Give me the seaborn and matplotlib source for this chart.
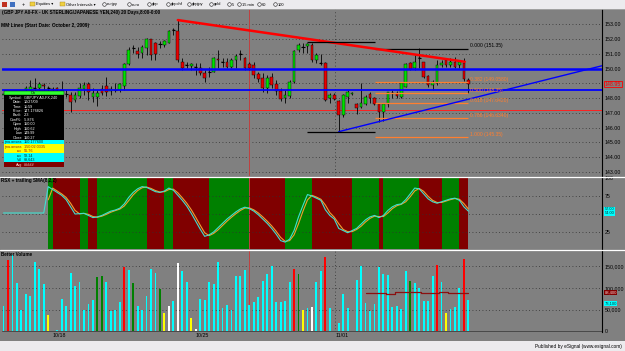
import numpy as np
import pandas as pd
import matplotlib
matplotlib.use('Agg')
import matplotlib.pyplot as plt
import seaborn as sns
from matplotlib.patches import Rectangle

#-----------------------------------------------------------------------------------------------------------------------
"""Data read off the chart (240 min bars, GBP/JPY)"""
opens = [148.20, 148.30, 148.05, 148.25, 148.35, 148.55, 148.55, 148.70, 148.66, 148.86,
         148.70, 148.61, 148.66, 148.55, 148.25, 148.21, 147.87, 148.16, 148.61, 148.93,
         148.09, 148.05, 148.61, 148.82, 148.48, 148.55, 148.55, 148.84, 150.28, 151.37,
         151.18, 151.03, 151.37, 151.97, 151.75, 151.64, 151.59, 151.70, 152.61, 152.54,
         150.46, 150.24, 150.19, 150.12, 150.06, 149.67, 149.79, 149.79, 150.64, 150.46,
         150.46, 150.12, 150.58, 151.00, 150.69, 150.28, 150.24, 149.61, 149.34, 148.66,
         149.45, 148.93, 148.48, 147.98, 148.16, 149.11, 151.25, 151.48, 151.55, 151.59,
         150.58, 150.35, 150.39, 147.98, 148.21, 147.80, 146.86, 148.09, 148.27, 147.58,
         147.42, 147.58, 148.25, 147.98, 147.58, 147.03, 147.58, 148.32, 148.32, 148.09,
         148.77, 150.35, 150.01, 150.69, 150.42, 149.52, 148.88, 148.99, 150.24, 150.58,
         150.24, 150.46, 150.24, 150.39, 149.22]
highs = [148.40, 148.40, 148.35, 148.45, 148.45, 148.84, 149.22, 149.34, 149.11, 148.99,
         148.84, 148.77, 148.77, 149.15, 148.55, 148.43, 148.39, 149.00, 149.11, 149.11,
         148.66, 148.55, 148.88, 149.45, 148.84, 149.00, 149.00, 150.35, 151.48, 151.59,
         151.48, 151.59, 152.04, 152.00, 151.82, 151.86, 151.93, 152.61, 152.76, 153.28,
         150.69, 150.46, 150.35, 150.35, 150.35, 149.90, 150.12, 150.76, 151.25, 150.69,
         150.69, 150.73, 150.96, 151.25, 150.80, 150.46, 150.46, 149.79, 149.67, 149.56,
         149.67, 149.22, 148.66, 148.55, 149.22, 151.25, 151.70, 151.70, 151.70, 151.70,
         151.03, 150.96, 150.46, 148.32, 148.32, 147.87, 148.25, 148.55, 148.39, 147.64,
         149.00, 148.21, 148.43, 148.09, 147.64, 147.64, 148.43, 148.55, 148.48, 149.11,
         150.35, 150.46, 150.91, 151.37, 150.46, 149.56, 149.22, 150.58, 150.58, 150.69,
         150.69, 150.80, 150.58, 150.69, 149.34]
lows = [147.90, 147.95, 147.80, 148.00, 148.10, 148.39, 148.39, 148.39, 148.52, 148.55,
        148.48, 148.43, 148.39, 148.25, 148.09, 147.03, 147.71, 147.98, 148.21, 147.87,
        147.71, 147.49, 148.21, 148.16, 148.21, 148.43, 148.43, 148.55, 150.24, 151.03,
        150.69, 150.69, 150.91, 150.58, 150.58, 151.37, 151.48, 151.70, 152.27, 150.46,
        149.90, 150.01, 149.90, 149.56, 149.56, 149.11, 149.45, 149.74, 150.01, 150.12,
        150.01, 150.06, 150.01, 150.58, 149.90, 149.90, 149.34, 149.11, 148.43, 148.32,
        148.66, 148.21, 147.80, 147.64, 147.98, 149.00, 151.14, 151.03, 151.03, 150.46,
        150.35, 150.24, 147.80, 147.64, 147.87, 145.73, 146.74, 147.64, 148.21, 146.90,
        147.31, 147.53, 147.64, 147.53, 146.40, 146.45, 147.42, 147.98, 147.98, 147.98,
        148.77, 149.90, 149.90, 150.01, 149.34, 148.77, 148.55, 148.88, 150.12, 150.12,
        150.12, 150.06, 150.01, 149.15, 148.32]
closes = [148.30, 148.05, 148.25, 148.35, 148.30, 148.70, 148.77, 148.70, 148.93, 148.80,
          148.70, 148.61, 148.55, 148.55, 148.25, 147.76, 148.21, 148.66, 148.88, 148.43,
          148.32, 148.32, 148.32, 148.43, 148.61, 148.55, 148.93, 150.28, 151.25, 151.37,
          150.96, 151.43, 151.97, 150.91, 150.96, 151.64, 151.86, 152.56, 152.61, 150.58,
          150.06, 150.24, 150.28, 150.12, 149.67, 149.34, 149.79, 150.69, 150.58, 150.46,
          150.12, 150.58, 150.82, 151.00, 150.01, 150.01, 149.56, 149.29, 148.66, 149.34,
          148.88, 148.48, 147.94, 148.21, 149.11, 151.18, 151.59, 151.48, 151.64, 150.58,
          150.91, 150.35, 147.87, 148.21, 147.94, 146.86, 148.21, 148.39, 148.32, 147.31,
          147.64, 148.09, 147.98, 147.58, 147.03, 147.58, 148.39, 148.32, 148.16, 149.00,
          150.28, 149.97, 150.46, 150.69, 149.45, 148.88, 149.11, 150.24, 150.35, 150.24,
          150.46, 150.12, 150.46, 149.27, 148.95]

volumes = [57700, 163800, 175400, 110000, 48500, 85400, 80800, 160000, 143000, 108500,
           36900, 1500, 2300, 75400, 57700, 133100, 103800, 113800, 48500, 62300,
           71500, 125300, 126900, 112300, 46900, 48500, 67700, 146900, 140800, 111500,
           57700, 50000, 80800, 143000, 133100, 96200, 42300, 57700, 70000, 156200,
           139200, 113100, 31500, 5400, 75400, 73100, 113100, 108500, 158500, 53800,
           60000, 50000, 126900, 126900, 140800, 60000, 67700, 79200, 116200, 131500,
           150800, 67700, 67700, 69200, 113800, 143000, 131500, 50000, 53800, 56200,
           113100, 139200, 170000, 54600, 1500, 19200, 86900, 54600, 1500, 117700,
           150800, 65400, 46900, 62300, 146900, 131500, 129200, 56200, 57700, 52300,
           138500, 115400, 110000, 98500, 69200, 69200, 126900, 152300, 113100, 42300,
           50800, 56200, 100000, 166150, 73100]
# c=cyan, r=red, g=green, y=yellow, w=white (Better Volume colouring)
vol_kind = ("crcccccccc" "ywcccccccc" "cggccccrcg" "cccccgywcw" "ccywcccccc"
            "cccccccccc" "cccccrgycw" "ccrcwccccc" "cccccccccc" "cgcccccrcy" "cccrc")
avg_start = 81
avg_vol = [89200, 89200, 89200, 89200, 89200, 86900, 86900, 90000, 90000, 90000, 90000, 91500,
           91500, 89200, 89200, 89200, 89200, 91500, 91500, 88400, 88400, 88400, 88400, 88400]

rsx = [51.4, 51.4, 51.4, 51.4, 51.4, 51.4, 51.4, 51.4, 51.4, 51.4,
       88, 84, 80, 76, 70, 60, 50, 50.5, 51, 48,
       45, 46, 48, 51, 54, 55.5, 58, 64, 73, 80,
       85, 88, 87, 84, 81, 80, 82, 86, 83, 76,
       69, 61, 51, 40, 29, 19, 21, 25, 31, 37,
       43, 48, 53, 57, 59.5, 57.5, 54, 49, 43, 37,
       30, 22, 13, 11, 15, 27, 46, 62, 77, 75,
       72, 69, 56, 48, 43, 30, 27, 24, 27, 30,
       36, 42, 46, 48, 45, 48, 55, 60, 63, 64,
       70, 78, 86, 85, 78, 71, 67, 65, 67, 69,
       71, 72, 69, 60, 54]
# background colour of the RSX pane per bar: G rising, R falling, . none
rsx_bands = (".........." "G" "RRRRRR" "GG" "RR" "GGGGGGGGGGG" "RRRR" "GG" "RRRRRRRR"
             "GGGGGGGGG" "RRRRRRRR" "GGGGGG" "RRRRRRRRR" "GGGGGG" "R" "GGGGGGGG" "RRRRR"
             "GGGG" "RR" ".")

date_ticks = [11, 43, 74.2]
date_labels = ['10/18', '10/25', '11/01']

# drawn objects
mm_blue = [150.00, 148.52]
mm_red = 147.17
down_x, down_y = [39, 103.2], [153.28, 150.46]
up_x, up_y = [75, 133.9], [145.73, 150.19]
box_x = [67.9, 83.1]
box_levels = [151.82, 145.68]
fib_x = [83.1, 104]
fib_levels = [151.35, 149.058, 148.35, 147.642, 146.634, 145.35]
fib_labels = ['0.000 (151.35)', '0.382 (149.0580)', '0.500 (148.35)', '0.618 (147.6420)',
              '0.786 (146.6340)', '1.000 (145.35)']
cursor_bar = 55

#-----------------------------------------------------------------------------------------------------------------------
"""Figure"""
sns.set_theme(style='white')
plt.rcParams['font.family'] = ['Liberation Sans', 'DejaVu Sans']

W, H = 625, 351
BG = '#808080'
fig = plt.figure(figsize=(6.25, 3.51), dpi=100)
fig.patch.set_facecolor(BG)


def px_box(l, t, r, b):
    return [l / W, 1 - b / H, (r - l) / W, (b - t) / H]


ax1 = fig.add_axes(px_box(2, 9, 602, 176))
ax2 = fig.add_axes(px_box(2, 177, 602, 249))
ax3 = fig.add_axes(px_box(2, 251, 602, 332))

x = np.arange(len(opens))
dot = (0, (1, 3))

for ax in (ax1, ax2, ax3):
    ax.set_facecolor(BG)
    ax.set_xlim(-0.34, 133.9)
    for s in ['top', 'left', 'bottom']:
        ax.spines[s].set_visible(False)
    ax.spines['right'].set_color('black')
    ax.spines['right'].set_linewidth(0.8)
    ax.yaxis.tick_right()
    ax.tick_params(axis='y', length=0, pad=2, labelsize=3.8, labelcolor='black')
    ax.tick_params(axis='x', length=0)
    ax.grid(False)
    ax.axvline(date_ticks[2], color='#303030', lw=0.6, ls=dot, zorder=0)
    ax.axvline(cursor_bar, color='#c04040', lw=0.7, zorder=0.5)

#-----------------------------------------------------------------------------------------------------------------------
"""Price pane"""
ax1.set_ylim(142.73, 154.03)
ax1.set_yticks(range(143, 154))
ax1.set_yticklabels([f'{v:.2f}' for v in range(143, 154)])
ax1.set_xticks([])
for v in range(143, 154):
    ax1.axhline(v, color='#303030', lw=0.6, ls=dot, zorder=0)

o, h, l, c = map(np.array, (opens, highs, lows, closes))
ax1.vlines(x, l, h, color='black', lw=0.6, zorder=3)
up = c > o
body_col = np.where(up, '#00e000', '#e80000')
ax1.bar(x, np.abs(c - o), bottom=np.minimum(o, c), width=0.6, color=body_col,
        edgecolor='black', linewidth=0.3, zorder=4)
doji = o == c
ax1.hlines(o[doji], x[doji] - 0.35, x[doji] + 0.35, color='black', lw=0.8, zorder=4)

ax1.axhline(mm_blue[0], color='#0000ff', lw=1.8, zorder=5)
ax1.axhline(mm_blue[1], color='#0000ff', lw=1.3, zorder=5)
ax1.axhline(mm_red, color='#ff2020', lw=0.7, zorder=2)
sns.lineplot(x=down_x, y=down_y, ax=ax1, color='#ff0000', lw=1.8, zorder=6)
sns.lineplot(x=up_x, y=up_y, ax=ax1, color='#0000ff', lw=1.0, zorder=6)
ax1.hlines(box_levels, box_x[0], box_x[1], color='black', lw=0.9, zorder=6)
for k, (lev, lab) in enumerate(zip(fib_levels, fib_labels)):
    col = 'black' if k == 0 else '#ff7f30'
    ax1.hlines(lev, fib_x[0], fib_x[1], color=col, lw=0.9, zorder=5)
    ax1.text(fib_x[1] + 0.3, lev + 0.02, lab, color=col, fontsize=3.6, va='bottom', ha='left', zorder=7)

ax1.text(1.004, closes[-1], f'{closes[-1]:.2f}', transform=ax1.get_yaxis_transform(), color='#ff0000',
         fontsize=3.8, va='center', ha='left', clip_on=False,
         bbox=dict(boxstyle='square,pad=0.15', fc=BG, ec='#ff0000', lw=0.6))

#-----------------------------------------------------------------------------------------------------------------------
"""RSX pane"""
ax2.set_ylim(1.4, 101.4)
ax2.set_yticks([25, 50, 75, 100])
ax2.set_yticklabels(['25', '', '75', '100'])
ax2.set_xticks([])
band_col = {'G': '#008000', 'R': '#800000'}
for i, b in enumerate(rsx_bands):
    if b in band_col:
        ax2.axvspan(i, i + 1, color=band_col[b], lw=0, zorder=0.2)
for v in (25, 50, 75):
    ax2.axhline(v, color='#303030', lw=0.6, ls=dot, zorder=1)
rsx_s = pd.Series(rsx, dtype=float)
sma = rsx_s.rolling(2).mean()
sma[:10] = np.nan
sns.lineplot(x=x, y=sma.values, ax=ax2, color='#f0a030', lw=0.8, zorder=3)
sns.lineplot(x=x, y=rsx_s.values, ax=ax2, color='#40e0d0', lw=0.8, zorder=4)
ax2.text(1.004, rsx[-1], f'{sma.iloc[-1]:.2f}\n{rsx[-1]:.2f}', transform=ax2.get_yaxis_transform(),
         color='#003030', fontsize=2.8, va='center', ha='left', clip_on=False, linespacing=0.9,
         bbox=dict(boxstyle='square,pad=0.15', fc='#00ffff', ec='none'))

#-----------------------------------------------------------------------------------------------------------------------
"""Better Volume pane"""
ax3.set_ylim(-1500, 184600)
ax3.set_yticks([0, 50000, 100000, 150000])
ax3.set_yticklabels(['0', '50,000', '100,000', '150,000'])
for v in (50000, 100000, 150000):
    ax3.axhline(v, color='#303030', lw=0.6, ls=dot, zorder=0)
kind_col = {'c': '#00ffff', 'r': '#ff0000', 'g': '#008000', 'y': '#ffff00', 'w': '#ffffff'}
ax3.bar(x, volumes, width=0.42, color=[kind_col[k] for k in vol_kind], lw=0, zorder=2)
ax3.axhline(0, color='#404040', lw=0.6, zorder=1)
avg_x = np.arange(avg_start, avg_start + len(avg_vol))
ax3.plot(avg_x, avg_vol, drawstyle='steps-mid', color='#8b1010', lw=0.9, zorder=3)
ax3.set_xticks(date_ticks)
ax3.set_xticklabels(date_labels, fontsize=3.8, color='black', ha='left')
ax3.tick_params(axis='x', pad=0.5)
ax3.text(1.004, avg_vol[-1], f'{avg_vol[-1]:,}', transform=ax3.get_yaxis_transform(), color='#ffd0d0',
         fontsize=3.0, va='center', ha='left', clip_on=False,
         bbox=dict(boxstyle='square,pad=0.15', fc='#800000', ec='none'))
ax3.text(1.004, volumes[-1] - 9000, f'{volumes[-1]:,}', transform=ax3.get_yaxis_transform(), color='#004040',
         fontsize=3.0, va='center', ha='left', clip_on=False,
         bbox=dict(boxstyle='square,pad=0.15', fc='#00ffff', ec='none'))

#-----------------------------------------------------------------------------------------------------------------------
"""Window chrome, titles and data window (pixel overlay)"""
ov = fig.add_axes([0, 0, 1, 1])
ov.set_xlim(0, W)
ov.set_ylim(H, 0)
ov.axis('off')
ov.set_zorder(10)
ov.patch.set_alpha(0)

# toolbar
ov.add_patch(Rectangle((0, 0), W, 8.5, fc='#ecebee', ec='none'))
ov.plot([0, W], [8.5, 8.5], color='#a8a8a8', lw=0.6)
ov.add_patch(Rectangle((2, 2), 5, 5, fc='#c03020', ec='none'))
ov.add_patch(Rectangle((10, 2), 5, 5, fc='#4070c0', ec='none'))
ov.text(22, 4.4, '+', fontsize=4, va='center', ha='left', color='black')
for fx, lab in [(30, 'Equities \u25be'), (60, 'Other Intervals \u25be')]:
    ov.add_patch(Rectangle((fx, 2.2), 5, 4, fc='#f0d040', ec='#a08020', lw=0.3))
    ov.text(fx + 6, 4.5, lab, fontsize=2.9, va='center', ha='left', color='black')
toolbar_items = ['eurjpy', 'euro', 'gbp', 'gbpchf', 'gbpjpy', 'gold', '5', '15 min', '60', '100']
toolbar_x = [104, 129, 149, 168, 189, 211, 229, 239, 259, 275]
for tx, lab in zip(toolbar_x, toolbar_items):
    ov.plot(tx, 4.4, marker='o', ms=2.6, mfc='none', mec='#202020', mew=0.4)
    ov.text(tx + 2.5, 4.5, lab, fontsize=2.9, va='center', ha='left', color='black')

# bottom strip
ov.add_patch(Rectangle((0, 340.5), W, H - 340.5, fc='#ecebee', ec='none'))
ov.text(622, 346.5, 'Published by eSignal (www.esignal.com)', fontsize=3.4, va='center', ha='right', color='black')

# pane separators
for yy in (176.5, 250):
    ov.plot([0, W], [yy, yy], color='white', lw=0.9)

# pane titles
ov.text(2, 12.8, '(GBP JPY A0-FX - UK STERLING/JAPANESE YEN,240) 20 Days,8:00-0:00',
        fontsize=3.3, fontweight='bold', va='center', ha='left', color='black')
ov.text(1, 25, 'MM Lines (Start Date: October 2, 2009)', fontsize=3.4, fontweight='bold',
        va='center', ha='left', color='black')
ov.text(1, 180.5, 'RSX + trailing SMA(8,2,2)', fontsize=3.3, fontweight='bold', va='center', ha='left', color='black')
ov.text(1, 255, 'Better Volume', fontsize=3.3, fontweight='bold', va='center', ha='left', color='black')

# data window
info_rows = [('Symbol:', 'GBPJPY A0-FX,240'), ('Date:', '10/27/09'), ('Time:', '11:59'),
             ('Price:', '147.176826'), ('Bar#:', '-23'), ('Conf%:', '-5.876'), ('Open', '150.00'),
             ('High', '150.62'), ('Low', '149.99'), ('Close', '150.27')]
ov.add_patch(Rectangle((3.5, 91), 60, 4.2, fc='#30ff30', ec='black', lw=0.3))
ov.text(33.5, 93.1, 'On', fontsize=2.8, va='center', ha='center', color='black')
ov.add_patch(Rectangle((3.5, 95.2), 60, 45, fc='black', ec='none'))
for k, (a, b) in enumerate(info_rows):
    yy = 97.6 + 4.45 * k
    ov.text(22, yy, a, fontsize=2.7, va='center', ha='right', color='white')
    ov.text(24, yy, b, fontsize=2.7, va='center', ha='left', color='white')
ov.add_patch(Rectangle((3.5, 140.2), 60, 4.2, fc='#00ffff', ec='none'))
ov.text(22, 142.3, 'jma.ansea', fontsize=2.7, va='center', ha='right', color='#003030')
ov.text(24, 142.3, '150.177600', fontsize=2.7, va='center', ha='left', color='#003030')
ov.add_patch(Rectangle((3.5, 144.4), 60, 8.3, fc='#ffff00', ec='none'))
ov.text(22, 146.6, 'jma.ansea', fontsize=2.7, va='center', ha='right', color='#a02000')
ov.text(24, 146.6, '150.02 0335', fontsize=2.7, va='center', ha='left', color='#a02000')
ov.text(22, 150.8, 'rsx', fontsize=2.7, va='center', ha='right', color='#a02000')
ov.text(24, 150.8, '56.76', fontsize=2.7, va='center', ha='left', color='#a02000')
ov.add_patch(Rectangle((3.5, 152.7), 60, 9.6, fc='#00ffff', ec='none'))
ov.text(22, 155.6, 'rsx', fontsize=2.7, va='center', ha='right', color='#003030')
ov.text(24, 155.6, '58.14', fontsize=2.7, va='center', ha='left', color='#003030')
ov.text(22, 160.0, 'Vol', fontsize=2.7, va='center', ha='right', color='#003030')
ov.text(24, 160.0, '69,643', fontsize=2.7, va='center', ha='left', color='#003030')
ov.add_patch(Rectangle((3.5, 162.3), 60, 5, fc='#800000', ec='none'))
ov.text(22, 164.8, 'Avg', fontsize=2.7, va='center', ha='right', color='#ffd0d0')
ov.text(24, 164.8, '#####', fontsize=2.7, va='center', ha='left', color='#ffd0d0')

#-----------------------------------------------------------------------------------------------------------------------
"""Save"""
fig.savefig('out.png', dpi=100, facecolor=fig.get_facecolor())
